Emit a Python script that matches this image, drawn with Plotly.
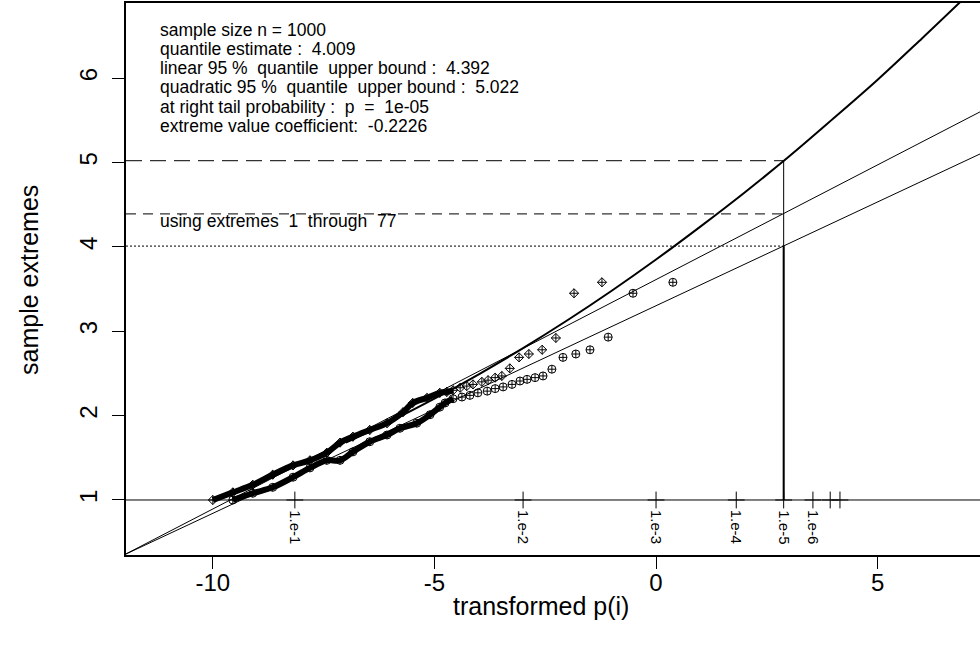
import plotly.graph_objects as go

# ---------------- data ----------------
# upper sample band (diamond symbols)
diam_x = [-10.00, -9.55, -9.10, -8.65, -8.19, -7.81, -7.43, -7.13, -6.84, -6.46, -6.07, -5.71, -5.49,
          -5.17, -4.88, -4.72, -4.58, -4.42, -4.27, -4.13, -3.93, -3.79, -3.63, -3.48, -3.30, -3.09,
          -2.87, -2.57, -2.26, -1.85, -1.22]
diam_y = [1.00, 1.09, 1.18, 1.30, 1.41, 1.47, 1.56, 1.68, 1.75, 1.83, 1.91, 2.04, 2.15,
          2.21, 2.27, 2.28, 2.30, 2.33, 2.35, 2.37, 2.40, 2.42, 2.45, 2.47, 2.56, 2.69,
          2.73, 2.78, 2.92, 3.45, 3.58]
diam_dense = 17   # first points overlap into a solid band

# lower sample band (circle-plus symbols)
circ_x = [-9.55, -9.10, -8.65, -8.19, -7.81, -7.43, -7.13, -6.84, -6.46, -6.07, -5.78, -5.40, -5.10,
          -4.88, -4.76, -4.58, -4.38, -4.20, -4.02, -3.81, -3.63, -3.45, -3.25, -3.07, -2.91, -2.73,
          -2.55, -2.35, -2.10, -1.81, -1.49, -1.08, -0.52, 0.38]
circ_y = [1.00, 1.08, 1.15, 1.27, 1.38, 1.47, 1.47, 1.57, 1.69, 1.77, 1.85, 1.91, 2.01,
          2.10, 2.15, 2.20, 2.22, 2.24, 2.27, 2.29, 2.32, 2.34, 2.37, 2.41, 2.43, 2.45,
          2.47, 2.55, 2.69, 2.73, 2.78, 2.93, 3.45, 3.58]
circ_dense = 16

# fitted lines
lin_est_x = [-12.0, 2.88, 7.4]
lin_est_y = [0.35, 4.009, 5.123]
lin_up_x = [-12.0, 2.88, 7.4]
lin_up_y = [0.35, 4.392, 5.624]
quad_x = [-7, -6, -5, -4, -3, -2, -1, 0, 1, 2, 3, 4, 5, 6, 7]
quad_y = [1.68, 1.93, 2.20, 2.49, 2.80, 3.13, 3.48, 3.85, 4.24, 4.645, 5.07, 5.52, 5.98, 6.47, 6.97]

# estimates
p_x = 2.88
q_est = 4.009
q_lin = 4.392
q_quad = 5.022

# probability marks on the y = 1 line
prob_x = [-8.15, -3.0, 0.0, 1.81, 2.88, 3.54, 3.93, 4.15]
prob_lab = ["1.e-1", "1.e-2", "1.e-3", "1.e-4", "1.e-5", "1.e-6", "", ""]

x_ticks = [-10, -5, 0, 5]
y_ticks = [1, 2, 3, 4, 5, 6]

info_lines = [
    "sample size n = 1000",
    "quantile estimate :\u00a0 4.009",
    "linear 95 %\u00a0 quantile\u00a0 upper bound :\u00a0 4.392",
    "quadratic 95 %\u00a0 quantile\u00a0 upper bound :\u00a0 5.022",
    "at right tail probability :\u00a0 p\u00a0 =\u00a0 1e-05",
    "extreme value coefficient:\u00a0 -0.2226",
]
using_text = "using extremes\u00a0 1\u00a0 through\u00a0 77"

# ---------------- layout constants ----------------
W, H = 980, 654
ML, MR, MT, MB = 126, 0, 3, 99
XR = [-11.96, 7.31]
YR = [0.348, 6.89]
FONT = "Liberation Sans, Arial, sans-serif"

fig = go.Figure()

# y = 1 reference line
fig.add_trace(go.Scatter(x=[XR[0], XR[1]], y=[1, 1], mode="lines",
                         line=dict(color="black", width=1), hoverinfo="skip"))

# horizontal estimate lines
fig.add_trace(go.Scatter(x=[XR[0], p_x], y=[q_quad, q_quad], mode="lines",
                         line=dict(color="#333", width=1.2, dash="16px,8px")))
fig.add_trace(go.Scatter(x=[XR[0], p_x], y=[q_lin, q_lin], mode="lines",
                         line=dict(color="#333", width=1.2, dash="10px,7px")))
fig.add_trace(go.Scatter(x=[XR[0], p_x], y=[q_est, q_est], mode="lines",
                         line=dict(color="black", width=1, dash="2px,2px")))
# vertical line at p
fig.add_trace(go.Scatter(x=[p_x, p_x], y=[1, q_quad], mode="lines",
                         line=dict(color="black", width=1)))
fig.add_trace(go.Scatter(x=[p_x, p_x], y=[1, q_est], mode="lines",
                         line=dict(color="black", width=2)))

# fitted lines
fig.add_trace(go.Scatter(x=lin_est_x, y=lin_est_y, mode="lines",
                         line=dict(color="black", width=1)))
fig.add_trace(go.Scatter(x=lin_up_x, y=lin_up_y, mode="lines",
                         line=dict(color="black", width=1)))
fig.add_trace(go.Scatter(x=quad_x, y=quad_y, mode="lines",
                         line=dict(color="black", width=2, shape="spline")))

# dense portions of the sample bands
fig.add_trace(go.Scatter(x=diam_x[:diam_dense], y=diam_y[:diam_dense], mode="lines",
                         line=dict(color="black", width=6, shape="spline")))
fig.add_trace(go.Scatter(x=circ_x[:circ_dense], y=circ_y[:circ_dense], mode="lines",
                         line=dict(color="black", width=6, shape="spline")))

# sample points
fig.add_trace(go.Scatter(x=diam_x, y=diam_y, mode="markers",
                         marker=dict(symbol="diamond-cross-open", size=7, color="black",
                                     line=dict(width=1, color="black"))))
fig.add_trace(go.Scatter(x=circ_x, y=circ_y, mode="markers",
                         marker=dict(symbol="circle-cross-open", size=8, color="black",
                                     line=dict(width=1, color="black"))))

# probability marks
fig.add_trace(go.Scatter(x=prob_x, y=[1] * len(prob_x), mode="markers",
                         marker=dict(symbol="cross-thin", size=12, color="black",
                                     line=dict(width=1, color="black"))))

annotations = []
for xv, lab in zip(prob_x, prob_lab):
    if lab:
        annotations.append(dict(x=xv, y=0.68, xref="x", yref="y", text=lab, showarrow=False,
                                textangle=90, xanchor="center", yanchor="middle",
                                font=dict(family=FONT, size=15, color="black")))

pw = W - ML - MR
ph = H - MT - MB
info_px = [30, 49, 68, 87, 107, 126]
for py, t in zip(info_px, info_lines):
    annotations.append(dict(x=(158 - ML) / pw, y=(H - MB - py) / ph, xref="paper", yref="paper",
                            text=t, showarrow=False, xanchor="left", yanchor="middle",
                            font=dict(family=FONT, size=17.5, color="black")))
annotations.append(dict(x=(158 - ML) / pw, y=(H - MB - 221) / ph, xref="paper", yref="paper",
                        text=using_text, showarrow=False, xanchor="left", yanchor="middle",
                        font=dict(family=FONT, size=17.5, color="black")))

# axis titles
annotations.append(dict(x=(541 - ML) / pw, y=-(606 - (H - MB)) / ph, xref="paper", yref="paper",
                        text="transformed p(i)", showarrow=False, xanchor="center", yanchor="middle",
                        font=dict(family=FONT, size=25, color="black")))
annotations.append(dict(x=-(ML - 29) / pw, y=(H - MB - 280) / ph, xref="paper", yref="paper",
                        text="sample extremes", showarrow=False, xanchor="center", yanchor="middle",
                        textangle=-90, font=dict(family=FONT, size=25, color="black")))

fig.update_layout(
    width=W, height=H,
    margin=dict(l=ML, r=MR, t=MT, b=MB, pad=0),
    paper_bgcolor="white", plot_bgcolor="white",
    showlegend=False,
    font=dict(family=FONT, size=25, color="black"),
    annotations=annotations,
    xaxis=dict(range=XR, tickvals=x_ticks, ticktext=[str(v) for v in x_ticks],
               showgrid=False, zeroline=False, showline=True, linecolor="black", linewidth=1.5,
               mirror=True, ticks="outside", ticklen=12, tickwidth=1, tickcolor="black",
               tickfont=dict(family=FONT, size=24), ticklabelstandoff=-7),
    yaxis=dict(range=YR, tickvals=y_ticks, ticktext=[str(v) for v in y_ticks],
               showgrid=False, zeroline=False, showline=True, linecolor="black", linewidth=1.5,
               mirror=False, ticks="outside", ticklen=12, tickwidth=1, tickcolor="black",
               tickangle=-90, tickfont=dict(family=FONT, size=24), ticklabelstandoff=6),
)

fig.write_html("out.html")
